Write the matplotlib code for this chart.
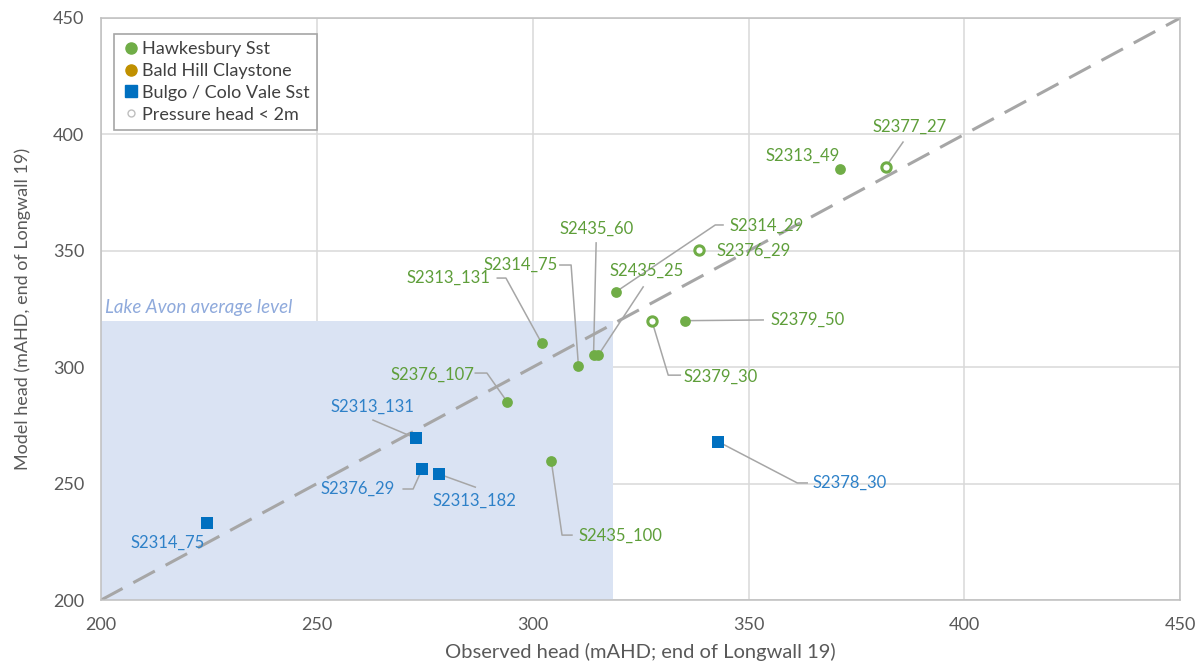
import matplotlib
matplotlib.use("Agg")
import matplotlib.pyplot as plt
from matplotlib.lines import Line2D

plt.rcParams['font.family'] = ['Lato', 'DejaVu Sans']

# Hawkesbury Sst bores (observed, model)
hawk_names = ['S2313_49', 'S2314_29', 'S2435_60', 'S2435_25', 'S2314_75', 'S2313_131',
              'S2379_50', 'S2376_107', 'S2435_100']
hawk_obs = [371.2, 319.3, 314.1, 315.2, 310.6, 302.1, 335.2, 294.1, 304.3]
hawk_mod = [385.1, 332.4, 305.2, 305.2, 300.5, 310.3, 320.0, 285.1, 259.8]

# Hawkesbury bores with pressure head < 2m
low_names = ['S2377_27', 'S2376_29', 'S2379_30']
low_obs = [381.8, 338.5, 327.6]
low_mod = [386.1, 350.3, 320.0]

# Bulgo / Colo Vale Sst bores
bulgo_names = ['S2313_131', 'S2376_29', 'S2313_182', 'S2314_75', 'S2378_30']
bulgo_obs = [272.9, 274.4, 278.3, 224.5, 343.0]
bulgo_mod = [269.5, 256.3, 254.1, 232.9, 268.0]

lake_obs = 318.6
lake_level = 320.0

# label positions and leader elbows
hawk_lab = {
    'S2313_49': ((362.6, 390.7), []),
    'S2314_29': ((354.1, 360.7), [(342.3, 361.1), (344.1, 361.1)]),
    'S2435_60': ((314.7, 359.4), [(314.7, 353.4)]),
    'S2435_25': ((326.3, 341.3), [(325.6, 334.5)]),
    'S2314_75': ((297.3, 343.9), [(308.9, 343.9), (306.3, 343.9)]),
    'S2313_131': ((280.4, 338.3), [(293.8, 338.3), (291.8, 338.3)]),
    'S2379_50': ((363.8, 320.3), [(353.4, 320.3)]),
    'S2376_107': ((276.7, 296.6), [(289.4, 297.5), (286.7, 297.5)]),
    'S2435_100': ((320.3, 227.5), [(306.8, 227.9), (309.1, 227.9)]),
}
low_lab = {
    'S2377_27': ((387.4, 403.2), [(385.8, 396.7)]),
    'S2376_29': ((351.3, 349.9), []),
    'S2379_30': ((343.6, 295.8), [(331.4, 296.6), (334.2, 296.6)]),
}
bulgo_lab = {
    'S2313_131': ((262.8, 282.9), [(263.0, 277.3)]),
    'S2376_29': ((259.5, 247.7), [(272.3, 247.7), (270.0, 247.7)]),
    'S2313_182': ((286.4, 242.5), [(286.7, 248.5)]),
    'S2314_75': ((215.5, 224.5), []),
    'S2378_30': ((373.5, 250.3), [(361.3, 250.3), (363.6, 250.3)]),
}

green = '#70AD47'
green_txt = '#5E9E3A'
blue = '#0070C0'
blue_txt = '#2E81C8'
lead = '#A6A6A6'

fig = plt.figure(figsize=(12.03, 6.66), dpi=100)
ax = fig.add_axes([0.084, 0.099, 0.897, 0.874])

ax.fill_between([200, lake_obs], 200, lake_level, color='#DAE3F3', zorder=1, lw=0)
ax.text(200.8, lake_level + 1.8, 'Lake Avon average level', style='italic', color='#8FAADC',
        fontsize=13.5, va='bottom', ha='left', zorder=2)

ax.plot([200, 450], [200, 450], ls=(0, (8, 4)), color='#A6A6A6', lw=2.2, zorder=2)


def draw_labels(names, xs, ys, labs, col):
    for n, x, y in zip(names, xs, ys):
        (tx, ty), elbows = labs[n]
        if elbows:
            px = [x] + [e[0] for e in elbows]
            py = [y] + [e[1] for e in elbows]
            ax.plot(px, py, color=lead, lw=1.1, zorder=3)
        ax.text(tx, ty, n, color=col, fontsize=12, ha='center', va='center', zorder=5)


draw_labels(hawk_names, hawk_obs, hawk_mod, hawk_lab, green_txt)
draw_labels(low_names, low_obs, low_mod, low_lab, green_txt)
draw_labels(bulgo_names, bulgo_obs, bulgo_mod, bulgo_lab, blue_txt)

ax.scatter(hawk_obs, hawk_mod, s=60, color=green, zorder=4, lw=0)
ax.scatter(low_obs, low_mod, s=45, facecolor='white', edgecolor=green, lw=2.2, zorder=4)
ax.scatter(bulgo_obs, bulgo_mod, s=70, marker='s', color=blue, zorder=4, lw=0)

ax.set_xlim(200, 450)
ax.set_ylim(200, 450)
ax.set_xticks([200, 250, 300, 350, 400, 450])
ax.set_yticks([200, 250, 300, 350, 400, 450])
ax.grid(color='#D9D9D9', lw=1.1, zorder=0)
ax.set_axisbelow(True)
ax.tick_params(length=0, labelsize=13, colors='#595959', pad=12)
for s in ax.spines.values():
    s.set_color('#BFBFBF')
    s.set_linewidth(1.1)

ax.set_xlabel('Observed head (mAHD; end of Longwall 19)', fontsize=14.5, color='#595959', labelpad=7)
ax.set_ylabel('Model head (mAHD, end of Longwall 19)', fontsize=13, color='#595959', labelpad=16)

handles = [
    Line2D([], [], ls='', marker='o', ms=8, color=green),
    Line2D([], [], ls='', marker='o', ms=8, color='#C09000'),
    Line2D([], [], ls='', marker='s', ms=8, color=blue),
    Line2D([], [], ls='', marker='o', ms=5, mfc='white', mec='#BFBFBF', mew=1),
]
leg = ax.legend(handles, ['Hawkesbury Sst', 'Bald Hill Claystone', 'Bulgo / Colo Vale Sst',
                          'Pressure head < 2m'],
                loc='upper left', bbox_to_anchor=(0.012, 0.9725), fontsize=13,
                handletextpad=0.05, handlelength=1.1, labelspacing=0.32, borderpad=0.4,
                fancybox=False, framealpha=1, edgecolor='#A6A6A6', borderaxespad=0)
leg.get_frame().set_linewidth(1.2)
for t in leg.get_texts():
    t.set_color('#404040')

fig.savefig('out.png', dpi=100)
